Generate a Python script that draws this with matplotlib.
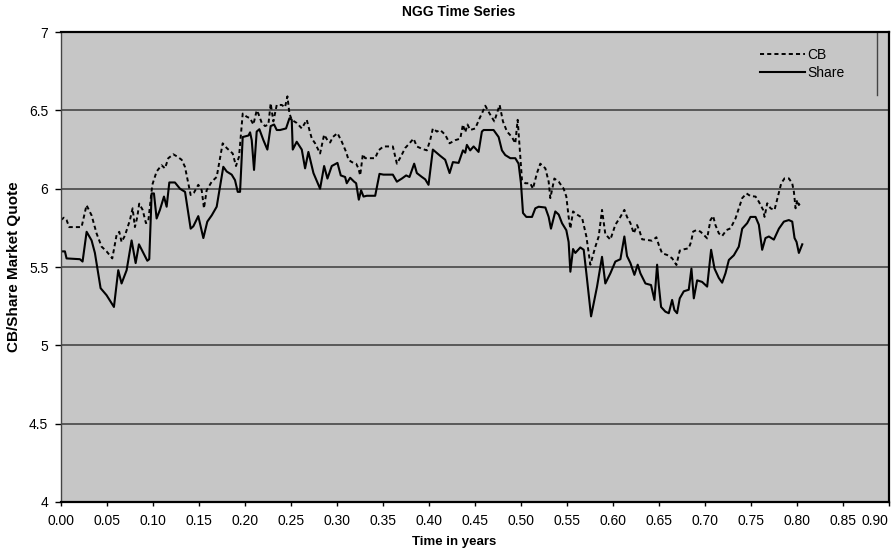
import numpy as np
import matplotlib
matplotlib.use('Agg')
import matplotlib.pyplot as plt
from matplotlib.ticker import FuncFormatter

plt.rcParams['font.family'] = ['Liberation Sans', 'DejaVu Sans']

# 数据：从图上读出的 (时间, 报价) 折点
share_t = [0.000, 0.0044, 0.0062, 0.0207, 0.0236, 0.0280, 0.0334, 0.0370, 0.0432, 0.0497,
           0.0577, 0.0624, 0.0660, 0.0715, 0.0769, 0.0813, 0.0849, 0.0896, 0.0940, 0.0961,
           0.0987, 0.1012, 0.1041, 0.1077, 0.1121, 0.1150, 0.1179, 0.1240, 0.1295, 0.1350,
           0.1411, 0.1440, 0.1494, 0.1549, 0.1592, 0.1640, 0.1694, 0.1766, 0.1803, 0.1857,
           0.1893, 0.1923, 0.1948, 0.1977, 0.2040,
           0.2057, 0.2075, 0.2100, 0.2129, 0.2158, 0.2202, 0.2245, 0.2281, 0.2318, 0.2347,
           0.2383, 0.2448, 0.2485, 0.2510, 0.2521, 0.2564, 0.2619, 0.2655, 0.2691, 0.2746,
           0.2818, 0.2862, 0.2898, 0.2945, 0.3007, 0.3043, 0.3090, 0.3108, 0.3145, 0.3188,
           0.3210, 0.3239, 0.3264, 0.3290, 0.3326, 0.3417, 0.3464, 0.3507, 0.3609, 0.3653,
           0.3707, 0.3754, 0.3790, 0.3841, 0.3870, 0.3925, 0.3961, 0.3997, 0.4044,
           0.4124, 0.4178, 0.4226, 0.4262, 0.4324, 0.4371, 0.4396, 0.4414, 0.4450, 0.4487,
           0.4541, 0.4577, 0.4596, 0.4704, 0.4741, 0.4759, 0.4795, 0.4831, 0.4886, 0.4940,
           0.4976, 0.5002, 0.5024, 0.5060, 0.5122, 0.5158, 0.5194, 0.5267, 0.5303, 0.5328,
           0.5375, 0.5412, 0.5448, 0.5495, 0.5520, 0.5539, 0.5568, 0.5593, 0.5647, 0.5684,
           0.5713, 0.5764, 0.5829, 0.5883, 0.5919, 0.5974, 0.6028, 0.6083, 0.6126, 0.6155,
           0.6192, 0.6235, 0.6271, 0.6300, 0.6355, 0.6416, 0.6453, 0.6482, 0.6500, 0.6525,
           0.6572, 0.6609, 0.6645, 0.6670, 0.6699, 0.6728, 0.6772, 0.6826, 0.6855, 0.6881,
           0.6917, 0.6971, 0.7026, 0.7069, 0.7106, 0.7153, 0.7189, 0.7225, 0.7262, 0.7316,
           0.7370, 0.7407, 0.7461, 0.7497, 0.7552, 0.7588, 0.7624, 0.7660, 0.7697, 0.7751,
           0.7806, 0.7860, 0.7914, 0.7951, 0.7976, 0.7998, 0.8023, 0.8060]
share_v = [5.60, 5.60, 5.555, 5.55, 5.535, 5.725, 5.67, 5.59, 5.365, 5.32,
           5.245, 5.48, 5.395, 5.48, 5.67, 5.525, 5.645, 5.59, 5.54, 5.55,
           5.97, 5.97, 5.81, 5.865, 5.95, 5.885, 6.04, 6.04, 6.00, 5.98,
           5.745, 5.76, 5.825, 5.685, 5.79, 5.83, 5.885, 6.14, 6.11, 6.09,
           6.055, 5.98, 5.98, 6.33, 6.34,
           6.36, 6.31, 6.12, 6.365, 6.38, 6.31, 6.25, 6.40, 6.41, 6.375,
           6.375, 6.385, 6.45, 6.44, 6.25, 6.30, 6.25, 6.13, 6.235, 6.10,
           6.00, 6.145, 6.065, 6.145, 6.165, 6.085, 6.075, 6.035, 6.07, 6.045,
           6.035, 5.93, 5.99, 5.95, 5.955, 5.955, 6.095, 6.09, 6.09, 6.045,
           6.065, 6.085, 6.075, 6.16, 6.10, 6.075, 6.06, 6.025, 6.25,
           6.21, 6.185, 6.10, 6.17, 6.165, 6.245, 6.23, 6.28, 6.245, 6.27,
           6.235, 6.365, 6.375, 6.375, 6.345, 6.33, 6.245, 6.215, 6.195, 6.195,
           6.16, 6.035, 5.845, 5.82, 5.82, 5.875, 5.885, 5.88, 5.82, 5.745,
           5.855, 5.835, 5.78, 5.735, 5.66, 5.47, 5.615, 5.59, 5.625, 5.61,
           5.46, 5.185, 5.375, 5.565, 5.395, 5.46, 5.535, 5.55, 5.695, 5.57,
           5.525, 5.45, 5.515, 5.46, 5.395, 5.385, 5.29, 5.515, 5.385, 5.245,
           5.215, 5.205, 5.29, 5.225, 5.205, 5.30, 5.345, 5.355, 5.49, 5.30,
           5.415, 5.405, 5.375, 5.61, 5.49, 5.43, 5.40, 5.46, 5.545, 5.575,
           5.63, 5.745, 5.78, 5.82, 5.82, 5.77, 5.61, 5.685, 5.695, 5.675,
           5.745, 5.79, 5.80, 5.79, 5.685, 5.66, 5.59, 5.645]

cb_t = [0.000, 0.0033, 0.0062, 0.0091, 0.0225, 0.0279, 0.0334, 0.0388, 0.0443, 0.0497,
        0.0559, 0.0606, 0.0635, 0.0660, 0.0696, 0.0751, 0.0780, 0.0805, 0.0831, 0.0852,
        0.0889, 0.0925, 0.0950, 0.0976, 0.0994, 0.1041, 0.1095, 0.1132, 0.1168, 0.1222,
        0.1266, 0.1313, 0.1349, 0.1411, 0.1447, 0.1494, 0.1531, 0.1556, 0.1585, 0.1640,
        0.1694, 0.1759, 0.1803, 0.1868, 0.1904, 0.1937, 0.1977, 0.2020,
        0.2057, 0.2093, 0.2129, 0.2147, 0.2184, 0.2220, 0.2256, 0.2281, 0.2310, 0.2347,
        0.2401, 0.2437, 0.2463, 0.2485, 0.2510, 0.2564, 0.2619, 0.2673, 0.2702, 0.2728,
        0.2764, 0.2818, 0.2862, 0.2898, 0.2927, 0.2956, 0.3007, 0.3054, 0.3101, 0.3127,
        0.3163, 0.3210, 0.3235, 0.3254, 0.3283, 0.3308, 0.3362, 0.3417, 0.3453, 0.3507,
        0.3609, 0.3653, 0.3696, 0.3743, 0.3790, 0.3834, 0.3870, 0.3925, 0.3979, 0.4015,
        0.4044, 0.4088,
        0.4124, 0.4178, 0.4226, 0.4287, 0.4342, 0.4371, 0.4396, 0.4421, 0.4450, 0.4505,
        0.4552, 0.4577, 0.4614, 0.4661, 0.4712, 0.4770, 0.4806, 0.4850, 0.4904, 0.4940,
        0.4966, 0.4987, 0.5013, 0.5049, 0.5103, 0.5132, 0.5176, 0.5212, 0.5267, 0.5303,
        0.5321, 0.5365, 0.5412, 0.5466, 0.5495, 0.5520, 0.5539, 0.5568, 0.5611, 0.5666,
        0.5713, 0.5756, 0.5811, 0.5847, 0.5883, 0.5919, 0.5974, 0.6028, 0.6083, 0.6126,
        0.6155, 0.6192,
        0.6228, 0.6264, 0.6293, 0.6319, 0.6373, 0.6427, 0.6474, 0.6500, 0.6536, 0.6591,
        0.6645, 0.6692, 0.6728, 0.6772, 0.6826, 0.6852, 0.6873, 0.6910, 0.6953, 0.6990,
        0.7026, 0.7062, 0.7091, 0.7116, 0.7153, 0.7189, 0.7236, 0.7280, 0.7334, 0.7370,
        0.7407, 0.7454, 0.7497, 0.7552, 0.7588, 0.7635, 0.7650, 0.7679, 0.7715, 0.7758,
        0.7795, 0.7831, 0.7867, 0.7914, 0.7951, 0.7969, 0.7987, 0.8005, 0.8023, 0.8049]
cb_v = [5.80, 5.815, 5.80, 5.755, 5.755, 5.895, 5.83, 5.715, 5.63, 5.60,
        5.555, 5.705, 5.725, 5.66, 5.70, 5.80, 5.875, 5.755, 5.82, 5.905,
        5.865, 5.78, 5.79, 5.93, 6.025, 6.11, 6.15, 6.13, 6.195, 6.22,
        6.205, 6.185, 6.14, 5.96, 5.975, 6.025, 5.99, 5.875, 5.99, 6.045,
        6.075, 6.29, 6.26, 6.225, 6.145, 6.205, 6.48, 6.46,
        6.45, 6.41, 6.50, 6.48, 6.42, 6.40, 6.41, 6.545, 6.43, 6.535,
        6.535, 6.52, 6.59, 6.48, 6.44, 6.42, 6.385, 6.44, 6.375, 6.32,
        6.29, 6.225, 6.345, 6.31, 6.295, 6.33, 6.355, 6.30, 6.235, 6.185,
        6.17, 6.16, 6.13, 6.085, 6.22, 6.195, 6.195, 6.195, 6.245, 6.27,
        6.27, 6.16, 6.205, 6.26, 6.29, 6.32, 6.27, 6.255, 6.245, 6.31,
        6.385, 6.365,
        6.375, 6.345, 6.29, 6.31, 6.32, 6.41, 6.36, 6.41, 6.375, 6.385,
        6.45, 6.48, 6.53, 6.48, 6.43, 6.535, 6.43, 6.365, 6.33, 6.29,
        6.44, 6.27, 6.055, 6.035, 6.035, 6.00, 6.10, 6.16, 6.13, 6.045,
        5.94, 6.065, 6.045, 6.00, 5.95, 5.82, 5.745, 5.855, 5.835, 5.815,
        5.695, 5.515, 5.63, 5.695, 5.865, 5.71, 5.675, 5.77, 5.82, 5.865,
        5.82, 5.78,
        5.715, 5.768, 5.726, 5.677, 5.673, 5.668, 5.69, 5.641, 5.588, 5.577,
        5.556, 5.513, 5.605, 5.613, 5.62, 5.662, 5.726, 5.736, 5.726, 5.705,
        5.683, 5.80, 5.826, 5.768, 5.715, 5.698, 5.736, 5.747, 5.81, 5.875,
        5.94, 5.97, 5.953, 5.95, 5.917, 5.864, 5.82, 5.907, 5.875, 5.864,
        5.95, 6.034, 6.066, 6.066, 6.034, 5.98, 5.875, 5.928, 5.896, 5.917]

x_ticks = np.arange(0, 0.901, 0.05)
y_ticks = [4, 4.5, 5, 5.5, 6, 6.5, 7]

fig = plt.figure(figsize=(8.95, 5.54), dpi=100)
ax = fig.add_axes([0.068, 0.094, 0.925, 0.848])
ax.set_facecolor('#c6c6c6')

ax.plot(cb_t, cb_v, color='black', lw=1.4, linestyle=(0, (2.1, 1.6)), label='CB')
ax.plot(share_t, share_v, color='black', lw=1.5, label='Share')

ax.set_xlim(0, 0.9)
ax.set_ylim(4, 7)
ax.set_xticks(x_ticks)
ax.set_yticks(y_ticks)
ax.xaxis.set_major_formatter(FuncFormatter(lambda v, p: f'{v:.2f}'))
ax.yaxis.set_major_formatter(FuncFormatter(lambda v, p: f'{v:g}'))
ax.tick_params(axis='x', direction='out', length=3, width=1, pad=6, labelsize=10)
ax.tick_params(axis='y', direction='out', length=4, width=1, pad=5, labelsize=10)
# 最右边的 0.90 右对齐，免得被裁掉
ax.xaxis.get_major_ticks()[-1].label1.set_horizontalalignment('right')

ax.yaxis.grid(True, color='#505050', lw=1.3)
ax.set_axisbelow(True)
for side in ['top', 'right', 'bottom']:
    ax.spines[side].set_linewidth(1.6)
ax.spines['left'].set_linewidth(1.0)
ax.spines['left'].set_color('#444444')

ax.set_xlabel('Time in years', fontsize=9.5, fontweight='bold')
ax.set_ylabel('CB/Share Market Quote', fontsize=11, fontweight='bold')
ax.xaxis.set_label_coords(0.475, -0.072)
ax.yaxis.set_label_coords(-0.048, 0.5)
fig.text(459 / 895, 1 - 12 / 554, 'NGG Time Series', ha='center', va='center',
         fontsize=10, fontweight='bold')

# 图例：无边框，只在右侧画一条竖线（原图只看得到右边框）
ax.legend(loc='upper left', bbox_to_anchor=(0.844, 0.966), borderaxespad=0,
          borderpad=0, frameon=False, fontsize=10, handlelength=3.3,
          handletextpad=0.15, labelspacing=0.25)
ax.plot([0.9855, 0.9855], [0.866, 1.0], transform=ax.transAxes,
        color='#444444', lw=1.0, clip_on=False)

plt.savefig('out.png', dpi=100)
plt.close()
